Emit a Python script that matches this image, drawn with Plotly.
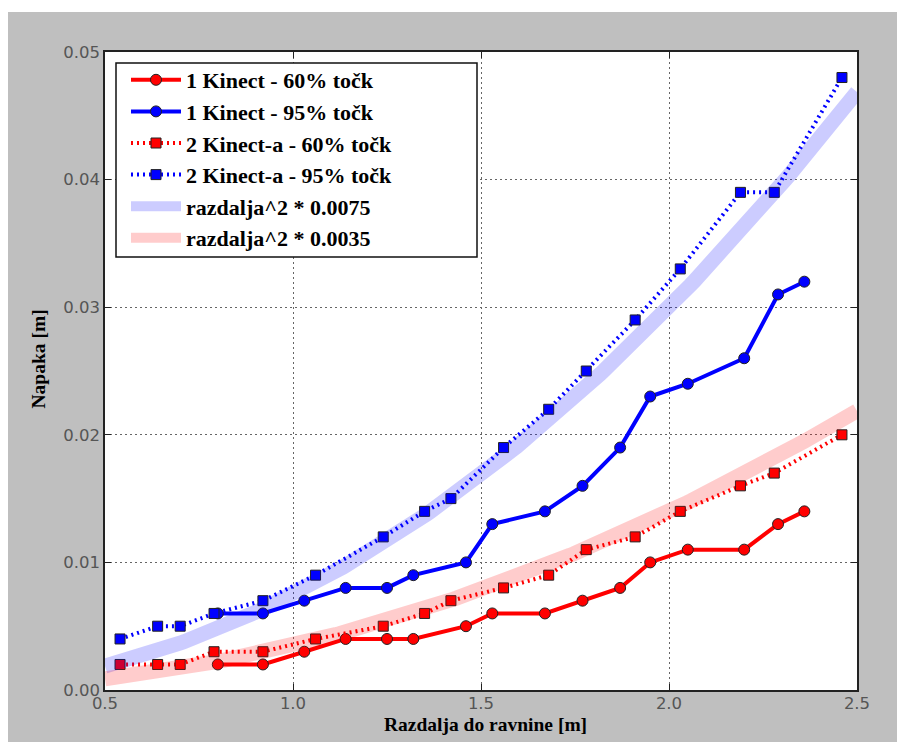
import numpy as np
import plotly.graph_objects as go

# ---- data ----
x_single = [0.80, 0.92, 1.03, 1.14, 1.25, 1.32, 1.46, 1.53, 1.67, 1.77, 1.87, 1.95, 2.05, 2.20, 2.29, 2.36]
y_single_60 = [0.002, 0.002, 0.003, 0.004, 0.004, 0.004, 0.005, 0.006, 0.006, 0.007, 0.008, 0.010, 0.011, 0.011, 0.013, 0.014]
y_single_95 = [0.006, 0.006, 0.007, 0.008, 0.008, 0.009, 0.010, 0.013, 0.014, 0.016, 0.019, 0.023, 0.024, 0.026, 0.031, 0.032]

x_double = [0.54, 0.64, 0.70, 0.79, 0.92, 1.06, 1.24, 1.35, 1.42, 1.56, 1.68, 1.78, 1.91, 2.03, 2.19, 2.28, 2.46]
y_double_60 = [0.002, 0.002, 0.002, 0.003, 0.003, 0.004, 0.005, 0.006, 0.007, 0.008, 0.009, 0.011, 0.012, 0.014, 0.016, 0.017, 0.020]
y_double_95 = [0.004, 0.005, 0.005, 0.006, 0.007, 0.009, 0.012, 0.014, 0.015, 0.019, 0.022, 0.025, 0.029, 0.033, 0.039, 0.039, 0.048]

series_labels = ["1 Kinect - 60% točk", "1 Kinect - 95% točk",
                 "2 Kinect-a - 60% točk", "2 Kinect-a - 95% točk"]
band_coeffs = [0.0075, 0.0035]
band_labels = ["razdalja^2 * 0.0075", "razdalja^2 * 0.0035"]
band_colors = ["rgba(0,0,255,0.2)", "rgba(255,0,0,0.2)"]

x_ticks = [0.5, 1.0, 1.5, 2.0, 2.5]
y_ticks = [0.00, 0.01, 0.02, 0.03, 0.04, 0.05]
x_title = "Razdalja do ravnine [m]"
y_title = "Napaka [m]"

# ---- figure geometry (figure sits at an 8px page offset) ----
W, H = 897, 734
L, R, T, B = 97, 48, 44, 52
pw, ph = W - L - R, H - T - B


def px(fx):
    return (fx - L) / pw


def py(fy):
    return (H - B - fy) / ph


fig = go.Figure()

circle_marker = lambda c: dict(symbol="circle", size=11, color=c, line=dict(color="#222", width=1))
square_marker = lambda c: dict(symbol="square", size=10, color=c, line=dict(color="#222", width=1))

fig.add_trace(go.Scatter(x=x_single, y=y_single_60, mode="lines+markers", name=series_labels[0],
                         line=dict(color="#ff0000", width=4), marker=circle_marker("#ff0000")))
fig.add_trace(go.Scatter(x=x_single, y=y_single_95, mode="lines+markers", name=series_labels[1],
                         line=dict(color="#0000ff", width=4), marker=circle_marker("#0000ff")))
fig.add_trace(go.Scatter(x=x_double, y=y_double_60, mode="lines+markers", name=series_labels[2],
                         line=dict(color="#ff0000", width=4, dash="2px,4px"), marker=square_marker("#ff0000")))
fig.add_trace(go.Scatter(x=x_double, y=y_double_95, mode="lines+markers", name=series_labels[3],
                         line=dict(color="#0000ff", width=4, dash="2px,4px"), marker=square_marker("#0000ff")))

xs = np.linspace(x_ticks[0], x_ticks[-1], 200)
for k, lab, col in zip(band_coeffs, band_labels, band_colors):
    fig.add_trace(go.Scatter(x=xs, y=k * xs ** 2, mode="lines", name=lab,
                             line=dict(color=col, width=15), hoverinfo="skip"))

axis_common = dict(showline=True, linecolor="#222", linewidth=1.5, mirror="ticks",
                   ticks="inside", ticklen=6, tickcolor="#222", tickwidth=1,
                   showgrid=True, gridcolor="#666", griddash="2px,3px", gridwidth=1,
                   zeroline=False,
                   tickfont=dict(family="DejaVu Sans", size=16.5, color="#555"))

fig.update_xaxes(range=[x_ticks[0], x_ticks[-1]], tickvals=x_ticks, tickformat=".1f", **axis_common)
fig.update_yaxes(range=[y_ticks[0], y_ticks[-1]], tickvals=y_ticks, tickformat=".2f", **axis_common)
try:
    fig.update_xaxes(ticklabelstandoff=-3)
except Exception:
    pass

title_font = dict(family="Liberation Serif", size=19.5, color="black", weight="bold")

fig.update_layout(
    width=W, height=H,
    margin=dict(l=L, r=R, t=T, b=B, pad=0),
    paper_bgcolor="#bfbfbf", plot_bgcolor="white",
    showlegend=True,
    legend=dict(x=px(118), y=py(51), xanchor="left", yanchor="top",
                bgcolor="rgba(0,0,0,0)", borderwidth=0,
                font=dict(family="Liberation Serif", size=22, color="black", weight="bold"),
                itemwidth=50, tracegroupgap=0),
    shapes=[
        # thin white strip along the top of the page
        dict(type="rect", xref="paper", yref="paper", x0=px(-20), x1=px(W + 20),
             y0=py(4), y1=py(-20), fillcolor="white", line_width=0, layer="below"),
        # legend frame
        dict(type="rect", xref="paper", yref="paper", x0=px(108), x1=px(469),
             y0=py(249), y1=py(55), fillcolor="white", line=dict(color="#111", width=1.5),
             layer="above"),
    ],
    annotations=[
        dict(text=x_title, xref="paper", yref="paper", x=px(477), y=py(717),
             xanchor="center", yanchor="middle", showarrow=False, font=title_font),
        dict(text=y_title, xref="paper", yref="paper", x=px(29.5), y=py(351),
             xanchor="center", yanchor="middle", showarrow=False, textangle=-90, font=title_font),
    ],
)

fig.write_html("out.html")
